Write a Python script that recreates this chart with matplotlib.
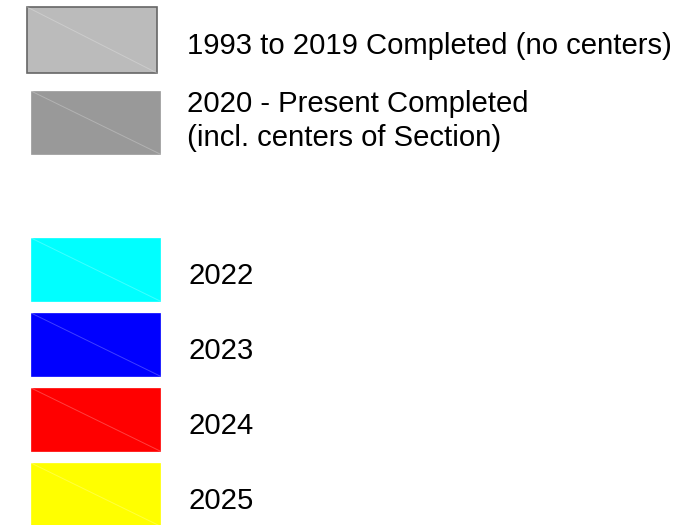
import matplotlib.pyplot as plt
from matplotlib.patches import Rectangle

# legend entries
labels = ["1993 to 2019 Completed (no centers)",
          "2020 - Present Completed\n(incl. centers of Section)",
          "2022", "2023", "2024", "2025"]
colors = ["#bbbbbb", "#999999", "#00ffff", "#0000ff", "#ff0000", "#ffff00"]

# layout in pixels (x0, y0, w, h) and text anchor
boxes = [(27, 7, 130, 66), (31, 91, 129, 63), (31, 238, 129, 63),
         (31, 313, 129, 63), (31, 388, 129, 63), (31, 463, 129, 63)]
text_y = [46, 121, 276, 351, 426, 501]
text_x = [187, 187, 189, 189, 189, 189]

fig = plt.figure(figsize=(6.93, 5.25), dpi=100)
ax = fig.add_axes([0, 0, 1, 1])
ax.set_xlim(0, 693)
ax.set_ylim(525, 0)
ax.axis("off")

for i, (lab, c) in enumerate(zip(labels, colors)):
    x0, y0, w, h = boxes[i]
    edge = "#666666" if i == 0 else c
    ax.add_patch(Rectangle((x0, y0), w, h, facecolor=c, edgecolor=edge,
                           linewidth=1.2 if i == 0 else 0.5))
    # faint diagonal
    ax.plot([x0, x0 + w], [y0, y0 + h], color="white", alpha=0.25, lw=0.7)
    ax.text(text_x[i], text_y[i], lab, fontsize=21.1, family="Liberation Sans",
            va="center", ha="left", color="black", linespacing=1.3)

fig.savefig("out.png", dpi=100)
